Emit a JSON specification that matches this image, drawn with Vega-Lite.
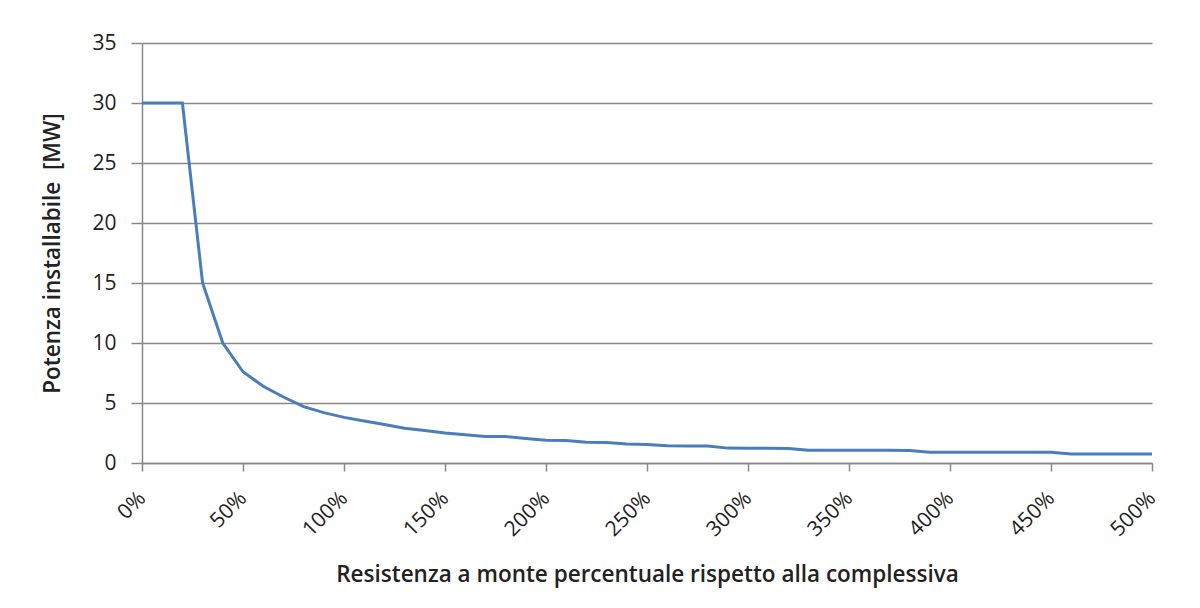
{
  "$schema": "https://vega.github.io/schema/vega-lite/v6.json",
  "width": 1010,
  "height": 420,
  "autosize": {"type": "none"},
  "padding": {"left": 142, "top": 43, "right": 48, "bottom": 145},
  "background": "white",
  "config": {
    "view": {"stroke": null},
    "font": "Open Sans"
  },
  "data": {
    "values": [
      {"r": 0, "p": 30}, {"r": 10, "p": 30}, {"r": 20, "p": 30},
      {"r": 30, "p": 15}, {"r": 40, "p": 10}, {"r": 50, "p": 7.6},
      {"r": 60, "p": 6.4}, {"r": 70, "p": 5.5}, {"r": 80, "p": 4.7},
      {"r": 90, "p": 4.2}, {"r": 100, "p": 3.8}, {"r": 110, "p": 3.5},
      {"r": 120, "p": 3.2}, {"r": 130, "p": 2.9}, {"r": 140, "p": 2.7},
      {"r": 150, "p": 2.5}, {"r": 160, "p": 2.35}, {"r": 170, "p": 2.2},
      {"r": 180, "p": 2.2}, {"r": 190, "p": 2.05}, {"r": 200, "p": 1.9},
      {"r": 210, "p": 1.88}, {"r": 220, "p": 1.73}, {"r": 230, "p": 1.71},
      {"r": 240, "p": 1.58}, {"r": 250, "p": 1.55}, {"r": 260, "p": 1.43},
      {"r": 270, "p": 1.42}, {"r": 280, "p": 1.42}, {"r": 290, "p": 1.24},
      {"r": 300, "p": 1.23}, {"r": 310, "p": 1.23}, {"r": 320, "p": 1.2},
      {"r": 330, "p": 1.06}, {"r": 340, "p": 1.06}, {"r": 350, "p": 1.06},
      {"r": 360, "p": 1.06}, {"r": 370, "p": 1.06}, {"r": 380, "p": 1.05},
      {"r": 390, "p": 0.9}, {"r": 400, "p": 0.89}, {"r": 410, "p": 0.89},
      {"r": 420, "p": 0.89}, {"r": 430, "p": 0.89}, {"r": 440, "p": 0.89},
      {"r": 450, "p": 0.89}, {"r": 460, "p": 0.75}, {"r": 470, "p": 0.75},
      {"r": 480, "p": 0.75}, {"r": 490, "p": 0.75}, {"r": 500, "p": 0.75}
    ]
  },
  "mark": {"type": "line", "color": "#4a7ebb", "strokeWidth": 3, "clip": false},
  "encoding": {
    "x": {
      "field": "r",
      "type": "quantitative",
      "scale": {"domain": [0, 500], "nice": false, "zero": false},
      "axis": {
        "values": [0, 50, 100, 150, 200, 250, 300, 350, 400, 450, 500],
        "labelExpr": "datum.value + '%'",
        "labelAngle": -45,
        "labelAlign": "right",
        "labelBaseline": "middle",
        "labelPadding": 24,
        "labelFontSize": 21,
        "labelColor": "#222222",
        "tickSize": 8,
        "tickColor": "#888888",
        "tickWidth": 1.5,
        "domainColor": "#888888",
        "domainWidth": 1.5,
        "grid": false,
        "title": "Resistenza a monte percentuale rispetto alla complessiva",
        "titleFontSize": 22.5,
        "titleFontWeight": 600,
        "titleColor": "#222222",
        "titlePadding": 24
      }
    },
    "y": {
      "field": "p",
      "type": "quantitative",
      "scale": {"domain": [0, 35], "nice": false},
      "axis": {
        "values": [0, 5, 10, 15, 20, 25, 30, 35],
        "labelFontSize": 21,
        "labelColor": "#222222",
        "labelPadding": 15,
        "tickSize": 11,
        "tickColor": "#888888",
        "tickWidth": 1.5,
        "domainColor": "#888888",
        "domainWidth": 1.5,
        "grid": true,
        "gridColor": "#888888",
        "gridWidth": 1.5,
        "title": "Potenza installabile\u00a0\u00a0[MW]",
        "titleFontSize": 22.5,
        "titleFontWeight": 600,
        "titleColor": "#222222",
        "titlePadding": 27
      }
    }
  }
}
